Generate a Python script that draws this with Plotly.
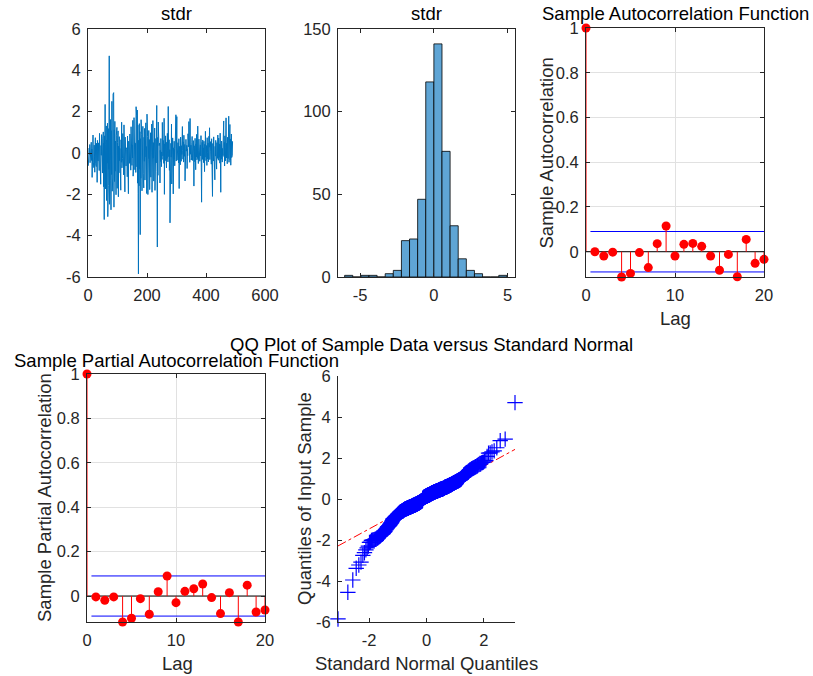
import numpy as np
import plotly.graph_objects as go
from statistics import NormalDist

# ---------------- data ----------------
stdr = [
    -0.62, 0.12, -0.31, 0.24, -0.08, 0.41, -0.47, 0.03, 0.33, -0.18,
    0.52, -0.36, 0.19, -1.18, 0.68, -0.27, 0.87, -0.44, 0.09, -0.71,
    0.38, -0.15, -0.93, 0.27, 0.74, -0.52, 0.21, -0.66, 0.47, 0.06,
    -1.42, 0.61, 0.14, -0.39, 0.49, -0.23, 0.31, -0.85, 0.95, 0.17,
    -0.29, 0.56, -1.51, 0.36, -0.11, 0.89, -0.58, 0.28, -0.97, 0.72,
    -0.44, 1.02, -1.63, 0.48, -3.22, 0.83, -0.91, 2.35, -1.74, 0.42,
    -1.25, 1.31, -2.30, 0.63, -0.49, 1.44, -3.08, 0.97, -1.56, 1.18,
    -0.78, 4.70, -2.48, 0.71, -1.33, 1.62, -0.57, -2.75, 1.08, -1.04,
    2.50, -1.85, 0.44, -1.21, 2.85, -0.66, 2.92, -2.62, 1.12, -1.38,
    1.53, -0.88, 0.58, -1.67, -2.02, 0.86, -0.32, 1.24, -1.71, 0.51,
    -0.54, 1.07, -2.12, 0.33, -0.96, 0.79, -0.37, 0.22, -1.29, 0.15,
    -1.80, 0.64, -0.45, 1.49, -0.72, 0.37, -0.26, 0.94, -0.12, 0.46,
    -1.06, 1.36, -0.41, 0.29, -1.88, 0.77, -0.21, 0.53, -0.63, 0.18,
    -0.35, 0.26, -1.15, 0.82, -0.69, 0.43, -1.97, 0.57, -0.28, 0.11,
    -0.50, 0.92, -0.17, 0.35, -0.83, 1.27, -0.42, 0.07, -0.60, 0.39,
    -0.24, 1.58, -1.12, 0.66, -0.53, 1.71, -0.34, 1.16, -0.81, 0.49,
    0.45, -0.94, 2.24, 0.81, 1.80, -0.67, 2.08, -1.46, 1.35, -1.95,
    -5.85, 0.62, -1.59, 1.42, -0.76, 1.03, -3.95, 0.69, -1.22, 1.61,
    -0.58, 0.88, -1.83, 0.38, -0.30, 1.29, -0.99, 0.47, -1.69, 0.76,
    -0.40, 1.19, -1.31, 0.55, -0.64, 1.46, -0.19, 0.31, -1.96, 1.88,
    -0.47, 0.79, -2.01, 0.40, -0.86, 1.09, -0.27, 0.65, -1.77, 0.52,
    -0.56, 0.98, -1.17, 0.20, -0.38, 1.40, -1.90, 0.59, -0.74, 1.57,
    -0.25, 0.50, -1.36, 0.90, -0.61, 1.21, -1.81, 0.34, -0.95, 0.70,
    -0.48, 1.26, 2.30, -0.89, -4.55, 0.75, -1.08, 1.50, -0.36, 0.58,
    0.36, -0.22, 0.48, -1.45, 0.13, -0.41, 0.70, 0.27, -0.66, 0.05,
    -0.31, 1.48, 0.22, -0.14, 0.61, 0.39, -0.50, 1.68, -2.00, 0.44,
    0.18, -0.37, 0.83, -0.09, 0.31, -0.72, 0.52, -0.26, 0.95, 0.11,
    -0.43, 2.25, 0.29, -0.18, 0.64, -0.84, 0.16, -3.38, 0.40, -0.33,
    0.47, -0.20, 1.40, -1.50, 0.34, -0.46, 0.73, 0.08, -1.98, 0.25,
    -0.29, 0.57, 0.21, -0.62, 0.42, -0.11, 0.88, 1.85, -0.39, 0.14,
    1.76, -0.35, 0.26, -0.15, 0.50, 0.03, -0.48, 0.69, -1.72, 0.32,
    -0.24, 0.43, -0.57, 0.77, 0.19, -0.40, 0.35, -0.07, 0.62, 1.28,
    0.12, -0.30, 0.54, -0.44, 0.86, 0.28, -0.16, 0.41, -1.35, 0.23,
    -0.38, 0.66, 0.09, -0.52, 0.37, -0.75, 0.20, -0.13, 0.93, 0.45,
    0.30, 1.52, -0.27, 0.15, -0.45, 1.67, -0.06, 0.58, 0.38, -0.34,
    -0.21, 0.49, 0.80, -0.36, 0.17, -0.09, 0.60, 0.24, -1.60, 0.35,
    0.06, -0.42, 0.71, 0.27, -0.81, 0.44, -0.19, 0.90, -0.33, 0.13,
    -0.28, 1.30, 0.33, -0.51, 0.10, 0.67, -0.23, 0.46, -0.40, 0.21,
    0.39, -0.14, 0.84, -0.69, -2.38, 0.18, 0.52, -0.31, 0.63, -0.05,
    0.25, -0.47, 0.57, 0.11, -0.90, 0.42, -0.20, 1.05, 0.31, -0.37,
    -0.12, 0.36, -0.60, 0.74, 0.02, -0.29, 0.48, -0.43, 0.15, 0.81,
    0.28, 1.22, -0.32, 0.07, 0.55, -0.18, 0.40, -0.54, 0.69, -0.10,
    -0.25, -2.10, 0.46, 0.19, -0.39, 0.78, 0.13, -0.08, 0.35, -1.30,
    0.32, -0.15, 0.61, -0.47, 0.24, -0.78, 0.50, 0.09, -0.26, 0.87,
    0.17, -0.35, 0.72, 0.04, -0.21, 0.44, -0.49, 0.96, 0.29, -1.90,
    0.41, -0.30, 0.58, 0.14, -0.44, 0.22, -0.11, 0.65, 0.37, 1.55,
    -0.17, 0.51, -0.63, 0.83, 0.26, -0.38, 0.10, 1.70, -0.24, 0.47,
    0.33, -0.52, 0.76, 0.20, -0.27, 0.43, 1.78, -0.45, 0.60, 0.15,
    1.38, -0.34, 0.68, -0.59, 0.38, 0.92, -0.22, 0.49, -0.13, 0.57,
]

# histogram of stdr (counts)
hist_edge_start = -6.05
hist_bin_width = 0.55
hist_counts = [1, 0, 1, 1, 0, 2, 4, 22, 23, 47, 118, 141, 76, 31, 11, 4, 2, 0, 0, 1]

# sample autocorrelation / partial autocorrelation
lags = list(range(21))
acf_vals = [1.0, 0.000, -0.019, -0.002, -0.113, -0.097, -0.004, -0.071, 0.036, 0.115,
            -0.019, 0.033, 0.037, 0.024, -0.019, -0.083, -0.012, -0.112, 0.055, -0.052, -0.034]
pacf_vals = [1.0, -0.004, -0.019, -0.004, -0.117, -0.100, -0.012, -0.082, 0.019, 0.090,
             -0.030, 0.021, 0.033, 0.054, -0.007, -0.079, 0.015, -0.117, 0.049, -0.072, -0.063]
conf_bound = 0.0904

# tick values
ts_xticks = [0, 200, 400, 600]
ts_yticks = [-6, -4, -2, 0, 2, 4, 6]
hist_xticks = [-5, 0, 5]
hist_yticks = [0, 50, 100, 150]
corr_xticks = [0, 10, 20]
corr_yticks = [0, 0.2, 0.4, 0.6, 0.8, 1]
qq_xticks = [-2, 0, 2]
qq_yticks = [-6, -4, -2, 0, 2, 4, 6]

# ---------------- layout helpers ----------------
W, H = 813, 676
FONT = "Liberation Sans, Arial, Helvetica, sans-serif"
TICK_SIZE = 16.5
LABEL_SIZE = 18.5
AX_COLOR = "#262626"


def fx(p):
    return p / W


def fy(p):
    return 1 - p / H


def lab(vals):
    return [f"{v:g}" for v in vals]


def axis(dom, rng, ticks, anchor, box=True, grid=False):
    return dict(
        domain=dom, range=rng, tickvals=ticks, ticktext=lab(ticks), anchor=anchor,
        automargin=False,
        showline=True, linecolor=AX_COLOR, linewidth=1,
        mirror="ticks" if box else False,
        ticks="inside", ticklen=4, tickwidth=1, tickcolor=AX_COLOR,
        tickfont=dict(family=FONT, size=TICK_SIZE, color=AX_COLOR),
        ticklabelstandoff=3,
        showgrid=grid, gridcolor="#E1E1E1", gridwidth=1,
        zeroline=False, fixedrange=True,
    )


# pixel boxes of the five axes (left, right, top, bottom)
box1 = (88, 265, 29, 277)
box2 = (338, 515, 29, 277)
box3 = (586, 764, 28, 277)
box4 = (87, 265, 374, 622)
box5 = (338, 515, 376, 622)


def dom(b):
    return [fx(b[0]), fx(b[1])], [fy(b[3]), fy(b[2])]


fig = go.Figure()

# 1) time series
t = list(range(1, len(stdr) + 1))
fig.add_trace(go.Scatter(x=t, y=stdr, mode="lines", line=dict(color="#0072BD", width=1),
                         xaxis="x", yaxis="y", hoverinfo="skip"))

# 2) histogram
edges = hist_edge_start + hist_bin_width * np.arange(len(hist_counts) + 1)
centers = (edges[:-1] + edges[1:]) / 2
fig.add_trace(go.Bar(x=centers, y=hist_counts, width=hist_bin_width,
                     marker=dict(color="rgb(95,165,213)", line=dict(color="black", width=0.8)),
                     xaxis="x2", yaxis="y2"))


# 3,4) ACF / PACF stems
def stem_traces(vals, xa, ya):
    sx, sy = [], []
    for l, v in zip(lags, vals):
        sx += [l, l, None]
        sy += [0, v, None]
    tr = []
    tr.append(go.Scatter(x=[lags[0], lags[-1]], y=[0, 0], mode="lines",
                         line=dict(color="black", width=1), xaxis=xa, yaxis=ya))
    tr.append(go.Scatter(x=[0.5, lags[-1]], y=[conf_bound, conf_bound], mode="lines",
                         line=dict(color="#0000FF", width=1), xaxis=xa, yaxis=ya))
    tr.append(go.Scatter(x=[0.5, lags[-1]], y=[-conf_bound, -conf_bound], mode="lines",
                         line=dict(color="#0000FF", width=1), xaxis=xa, yaxis=ya))
    tr.append(go.Scatter(x=sx, y=sy, mode="lines", line=dict(color="#FF0000", width=1),
                         xaxis=xa, yaxis=ya))
    tr.append(go.Scatter(x=lags, y=vals, mode="markers", cliponaxis=False,
                         marker=dict(color="#FF0000", size=9, line=dict(color="#FF0000", width=0)),
                         xaxis=xa, yaxis=ya))
    return tr


for tr in stem_traces(acf_vals, "x3", "y3"):
    fig.add_trace(tr)
for tr in stem_traces(pacf_vals, "x4", "y4"):
    fig.add_trace(tr)

# 5) QQ plot
ys = np.sort(np.array(stdr))
n = len(ys)
nd = NormalDist()
pp = (np.arange(1, n + 1) - 0.5) / n
xs = np.array([nd.inv_cdf(p) for p in pp])
q1y, q3y = np.percentile(ys, [25, 75], method="hazen")
q1x, q3x = nd.inv_cdf(0.25), nd.inv_cdf(0.75)
slope = (q3y - q1y) / (q3x - q1x)
cy = (q1y + q3y) / 2 - slope * (q1x + q3x) / 2
fig.add_trace(go.Scatter(x=[xs[0], xs[-1]], y=[cy + slope * xs[0], cy + slope * xs[-1]],
                         mode="lines", line=dict(color="#FF0000", width=1, dash="dashdot"),
                         xaxis="x5", yaxis="y5"))
fig.add_trace(go.Scatter(x=[q1x, q3x], y=[cy + slope * q1x, cy + slope * q3x],
                         mode="lines", line=dict(color="#FF0000", width=1),
                         xaxis="x5", yaxis="y5"))
fig.add_trace(go.Scatter(x=xs, y=ys, mode="markers", cliponaxis=False,
                         marker=dict(symbol="cross-thin", size=11,
                                     line=dict(color="#0000FF", width=1.2)),
                         xaxis="x5", yaxis="y5"))

# ---------------- axes ----------------
d1x, d1y = dom(box1)
d2x, d2y = dom(box2)
d3x, d3y = dom(box3)
d4x, d4y = dom(box4)
d5x, d5y = dom(box5)

layout = dict(
    width=W, height=H, margin=dict(l=0, r=0, t=0, b=0, pad=0),
    paper_bgcolor="white", plot_bgcolor="white", showlegend=False,
    hovermode=False,
    xaxis=axis(d1x, [0, 600], ts_xticks, "y"),
    yaxis=axis(d1y, [-6, 6], ts_yticks, "x"),
    xaxis2=axis(d2x, [-6.5, 5.5], hist_xticks, "y2"),
    yaxis2=axis(d2y, [0, 150], hist_yticks, "x2"),
    xaxis3=axis(d3x, [0, 20], corr_xticks, "y3", grid=True),
    yaxis3=axis(d3y, [min(acf_vals), 1], corr_yticks, "x3", grid=True),
    xaxis4=axis(d4x, [0, 20], corr_xticks, "y4", grid=True),
    yaxis4=axis(d4y, [min(pacf_vals), 1], corr_yticks, "x4", grid=True),
    xaxis5=axis(d5x, [xs[0], xs[-1]], qq_xticks, "y5", box=False),
    yaxis5=axis(d5y, [-6, 6], qq_yticks, "x5", box=False),
)
fig.update_layout(**layout)


def ann(text, x, y, angle=0, size=LABEL_SIZE, color="black"):
    fig.add_annotation(text=text, x=fx(x), y=fy(y), xref="paper", yref="paper",
                       xanchor="center", yanchor="middle", showarrow=False,
                       textangle=angle, font=dict(family=FONT, size=size, color=color))


ann("stdr", 176.5, 14)
ann("stdr", 426.5, 14)
ann("Sample Autocorrelation Function", 675, 13)
ann("Sample Autocorrelation", 545.5, 153, angle=-90, color=AX_COLOR)
ann("Lag", 675, 318, color=AX_COLOR)
ann("QQ Plot of Sample Data versus Standard Normal", 431, 344)
ann("Sample Partial Autocorrelation Function", 176, 360)
ann("Sample Partial Autocorrelation", 44, 498, angle=-90, color=AX_COLOR)
ann("Lag", 177, 663, color=AX_COLOR)
ann("Quantiles of Input Sample", 304, 499, angle=-90, color=AX_COLOR)
ann("Standard Normal Quantiles", 426, 663, color=AX_COLOR)

fig.write_html(
    "out.html",
    config=dict(displayModeBar=False, staticPlot=True),
    post_script="document.body.style.margin='0';document.body.style.overflow='hidden';",
)
